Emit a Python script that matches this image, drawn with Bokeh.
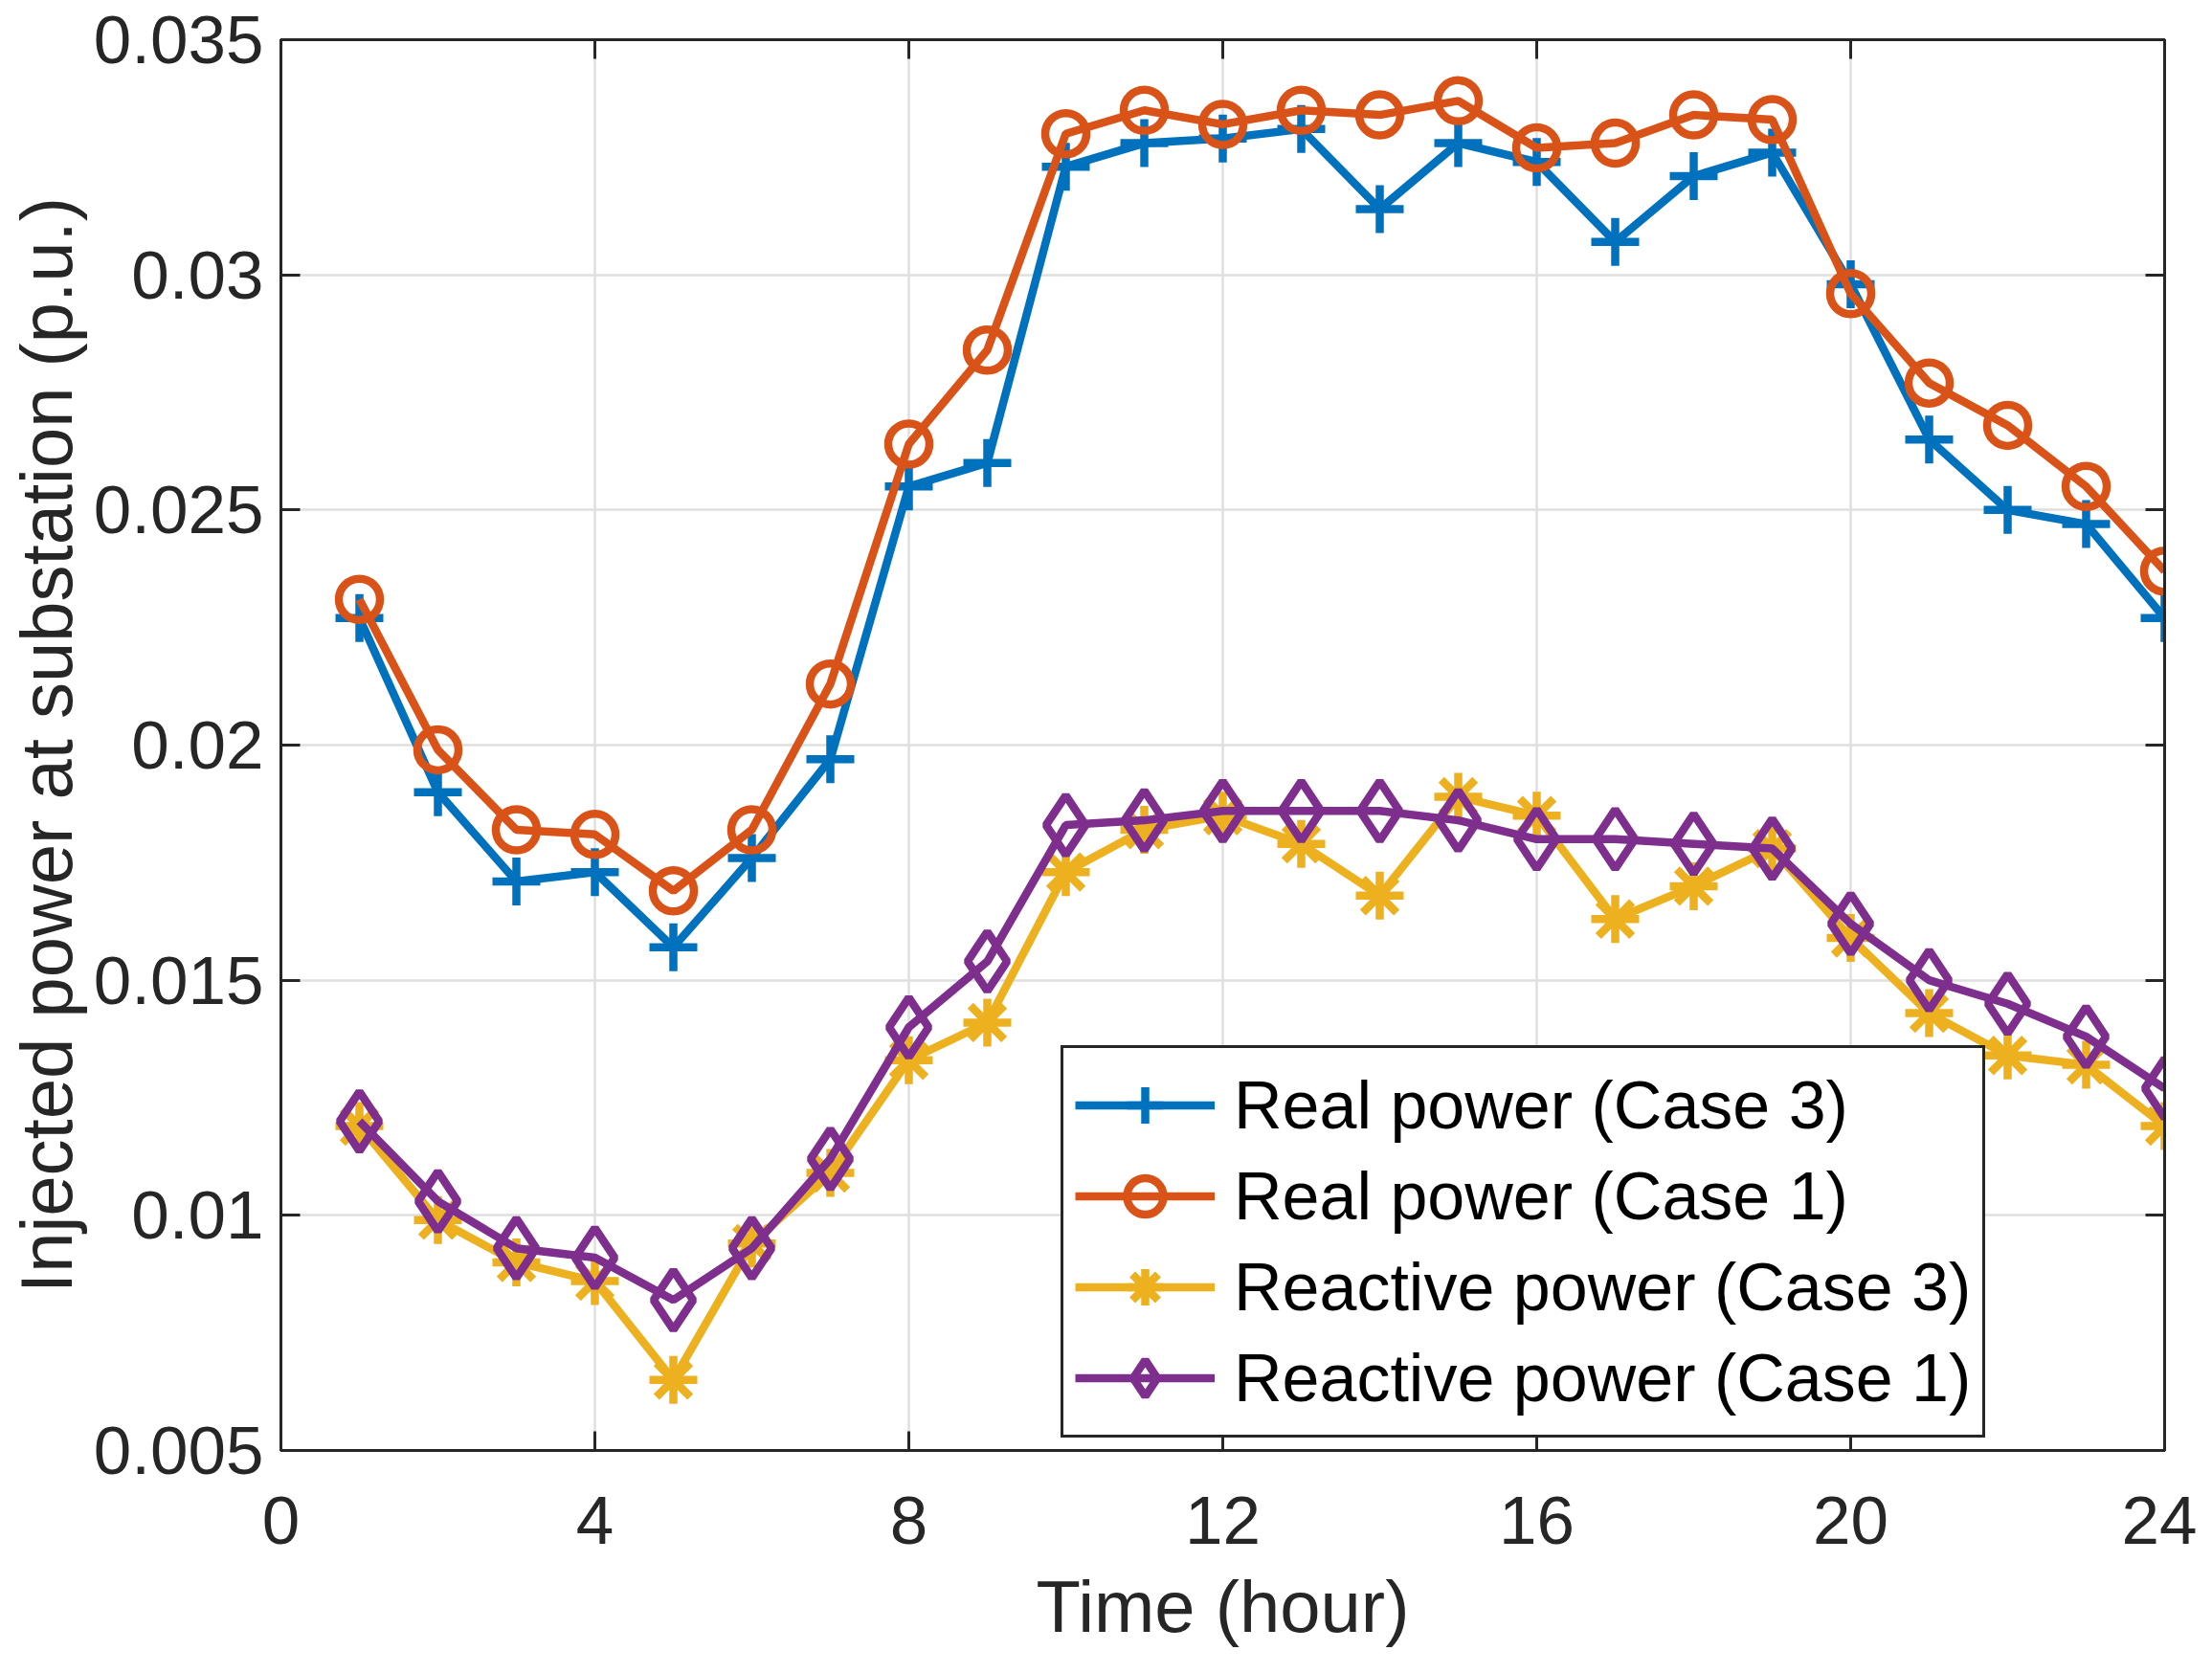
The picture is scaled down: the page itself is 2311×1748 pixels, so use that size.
from bokeh.plotting import figure
from bokeh.models import (Range1d, LinearAxis, FixedTicker, CustomJSTickFormatter, Legend,
                          LegendItem, CustomLabelingPolicy)
from bokeh.embed import file_html
from bokeh.resources import INLINE

hours = list(range(1, 25))
real_case3 = [0.0227, 0.0190, 0.0171, 0.0173, 0.0157, 0.0176, 0.0197, 0.0255, 0.0260, 0.0323,
              0.0328, 0.0329, 0.0331, 0.0314, 0.0328, 0.0324, 0.0307, 0.0321, 0.0326, 0.0298,
              0.0265, 0.0250, 0.0247, 0.0227]
real_case1 = [0.0231, 0.0199, 0.0182, 0.0181, 0.0169, 0.0182, 0.0213, 0.0264, 0.0284, 0.0330,
              0.0335, 0.0332, 0.0335, 0.0334, 0.0337, 0.0327, 0.0328, 0.0334, 0.0333, 0.0296,
              0.0277, 0.0268, 0.0255, 0.0237]
reactive_case3 = [0.0119, 0.0099, 0.0090, 0.0086, 0.0065, 0.0094, 0.0109, 0.0133, 0.0141, 0.0173,
                  0.0182, 0.0185, 0.0179, 0.0168, 0.0189, 0.0185, 0.0163, 0.0170, 0.0178, 0.0159,
                  0.0143, 0.0134, 0.0132, 0.0119]
reactive_case1 = [0.0120, 0.0103, 0.0093, 0.0091, 0.0082, 0.0093, 0.0112, 0.0140, 0.0154, 0.0183,
                  0.0184, 0.0186, 0.0186, 0.0186, 0.0184, 0.0180, 0.0180, 0.0179, 0.0178, 0.0162,
                  0.0150, 0.0145, 0.0138, 0.0127]
series_labels = ["Real power (Case 3)", "Real power (Case 1)", "Reactive power (Case 3)", "Reactive power (Case 1)"]
x_ticks = [0, 4, 8, 12, 16, 20, 24]
y_ticks = [0.005, 0.01, 0.015, 0.02, 0.025, 0.03, 0.035]
x_label = "Time (hour)"
y_label = "Injected power at substation (p.u.)"

FONT = "Liberation Sans"
TXT = "#262626"

p = figure(width=2295, height=1732, output_backend="svg", toolbar_location=None,
           x_range=Range1d(0, 24), y_range=Range1d(0.005, 0.035),
           min_border_left=293, min_border_right=34, min_border_top=41, min_border_bottom=217)
p.background_fill_color = "white"
p.border_fill_color = "white"
p.outline_line_color = TXT
p.outline_line_width = 3

for ax in (p.xaxis[0], p.yaxis[0]):
    ax.major_tick_in = 20
    ax.major_tick_out = 0
    ax.minor_tick_in = 0
    ax.minor_tick_out = 0
    ax.axis_line_color = TXT
    ax.axis_line_width = 3
    ax.major_tick_line_color = TXT
    ax.major_tick_line_width = 3
    ax.major_label_text_font = FONT
    ax.major_label_text_font_size = "71px"
    ax.major_label_text_color = TXT
    ax.axis_label_text_font = FONT
    ax.axis_label_text_font_size = "76px"
    ax.axis_label_text_font_style = "normal"
    ax.axis_label_text_color = TXT

p.xaxis[0].ticker = FixedTicker(ticks=x_ticks)
p.yaxis[0].ticker = FixedTicker(ticks=y_ticks)
p.yaxis[0].formatter = CustomJSTickFormatter(code="return parseFloat(tick.toFixed(3)).toString();")
p.xaxis[0].axis_label = x_label
p.yaxis[0].axis_label = y_label
p.xaxis[0].major_label_standoff = 48
p.yaxis[0].major_label_standoff = 18
p.xaxis[0].axis_label_standoff = 20
p.yaxis[0].axis_label_standoff = 4

# mirrored axes (box) with ticks only
no_labels = CustomLabelingPolicy(code="for (const i of [...indices.ones()]) indices.unset(i); return indices;")
for loc, tk in (("right", y_ticks), ("above", x_ticks)):
    a = LinearAxis(ticker=FixedTicker(ticks=tk), major_tick_in=20, major_tick_out=0,
                   minor_tick_in=0, minor_tick_out=0, axis_line_color=TXT, axis_line_width=3,
                   major_tick_line_color=TXT, major_tick_line_width=3,
                   major_label_policy=no_labels, major_label_standoff=0)
    p.add_layout(a, loc)

p.grid.grid_line_color = "#dfdfdf"
p.grid.grid_line_width = 2.5
p.xgrid.ticker = FixedTicker(ticks=x_ticks)
p.ygrid.ticker = FixedTicker(ticks=y_ticks)

colors = ["#0072BD", "#D95319", "#EDB120", "#7E2F8E"]
markers = ["cross", "circle", "asterisk", "diamond"]
sizes = [50, 43, 50, 62]
data = [real_case3, real_case1, reactive_case3, reactive_case1]

items = []
for ys, c, m, s, lab in zip(data, colors, markers, sizes, series_labels):
    r1 = p.line(hours, ys, line_color=c, line_width=8.5)
    r2 = p.scatter(hours, ys, marker=m, size=s, line_color=c, line_width=8.5, fill_alpha=0)
    items.append(LegendItem(label=lab, renderers=[r1, r2]))

legend = Legend(items=items, location=(815, 13), margin=0, padding=12,
                label_text_font=FONT, label_text_font_size="70px", label_text_color="black",
                label_height=95, glyph_height=95, glyph_width=146, label_standoff=20, spacing=0,
                border_line_color=TXT, border_line_width=3, border_line_alpha=1,
                background_fill_color="white", background_fill_alpha=1)
p.add_layout(legend, "center")

open("out.html", "w").write(file_html(p, INLINE))
